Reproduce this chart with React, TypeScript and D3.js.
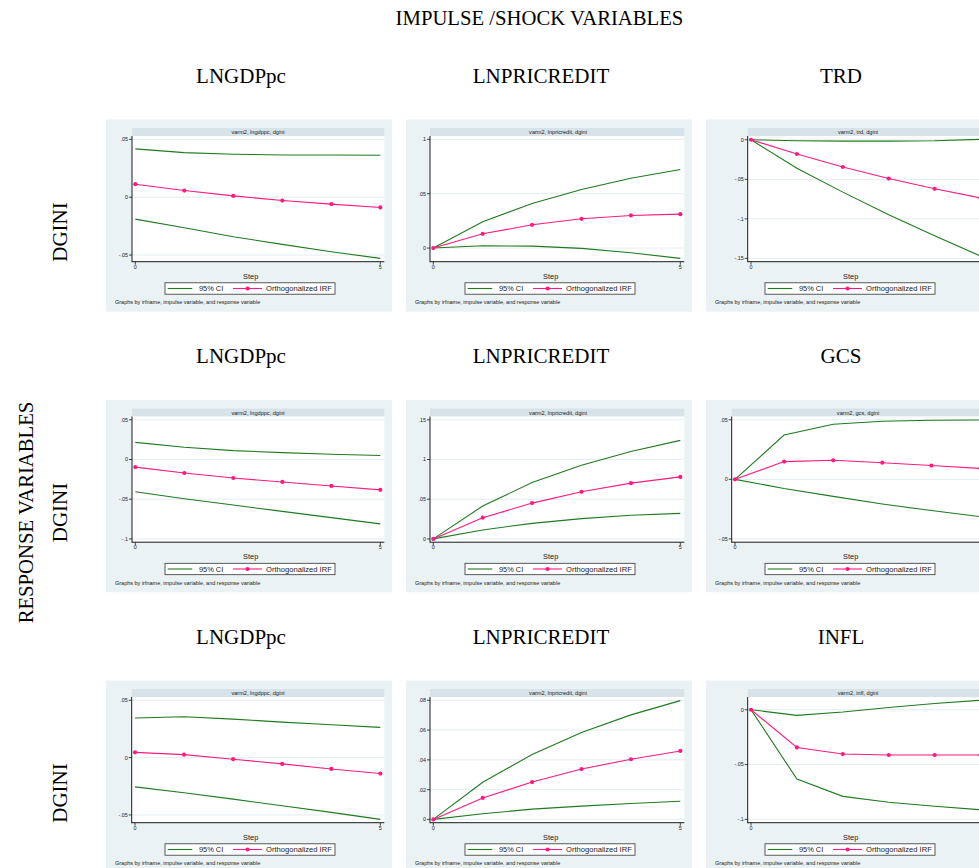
import React from "react";
import * as d3 from "d3";

// Forecast horizon (steps)
const STEPS = [0, 1, 2, 3, 4, 5];

// Column headers (impulse variables), one list per row of panels
const impulseRow1 = ["LNGDPpc", "LNPRICREDIT", "TRD"];
const impulseRow2 = ["LNGDPpc", "LNPRICREDIT", "GCS"];
const impulseRow3 = ["LNGDPpc", "LNPRICREDIT", "INFL"];
const responseName = "DGINI";

// Response of dgini to lngdppc (first system)
const gdp1Irf = [0.0112, 0.0057, 0.0011, -0.0029, -0.006, -0.0089];
const gdp1Lo = [-0.019, -0.0264, -0.0342, -0.0408, -0.0471, -0.0529];
const gdp1Hi = [0.0417, 0.0385, 0.0371, 0.0365, 0.0365, 0.0362];
const gdp1Ticks = [-0.05, 0, 0.05];

// Response of dgini to lnpricredit (first system)
const credit1Irf = [0, 0.0131, 0.0214, 0.0269, 0.03, 0.0312];
const credit1Lo = [0, 0.0021, 0.0018, -0.0003, -0.0043, -0.0095];
const credit1Hi = [0, 0.0242, 0.041, 0.0538, 0.0642, 0.0722];
const credit1Ticks = [0, 0.05, 0.1];

// Response of dgini to trd
const trdIrf = [0, -0.018, -0.0344, -0.049, -0.062, -0.0735];
const trdLo = [0, -0.036, -0.0662, -0.0947, -0.1215, -0.147];
const trdHi = [0, -0.0013, -0.0017, -0.0017, -0.0012, 0.0006];
const trdTicks = [-0.15, -0.1, -0.05, 0];

// Response of dgini to lngdppc (second system)
const gdp2Irf = [-0.0096, -0.017, -0.0233, -0.0283, -0.0333, -0.0382];
const gdp2Lo = [-0.0407, -0.0495, -0.0574, -0.0653, -0.0732, -0.0811];
const gdp2Hi = [0.0216, 0.0154, 0.0112, 0.0087, 0.0066, 0.005];
const gdp2Ticks = [-0.1, -0.05, 0, 0.05];

// Response of dgini to lnpricredit (second system)
const credit2Irf = [0, 0.0267, 0.0451, 0.0593, 0.0702, 0.0781];
const credit2Lo = [0, 0.0113, 0.0196, 0.0255, 0.0297, 0.0322];
const credit2Hi = [0, 0.0414, 0.071, 0.0927, 0.11, 0.1241];
const credit2Ticks = [0, 0.05, 0.1, 0.15];

// Response of dgini to gcs
const gcsIrf = [0, 0.0149, 0.016, 0.014, 0.0116, 0.0091];
const gcsLo = [0, -0.0077, -0.0143, -0.0207, -0.0262, -0.0314];
const gcsHi = [0, 0.0372, 0.0463, 0.0488, 0.0496, 0.0499];
const gcsTicks = [-0.05, 0, 0.05];

// Response of dgini to lngdppc (third system)
const gdp3Irf = [0.0046, 0.0026, -0.0014, -0.0055, -0.0099, -0.0139];
const gdp3Lo = [-0.0255, -0.0307, -0.0362, -0.042, -0.0478, -0.0539];
const gdp3Hi = [0.0345, 0.0357, 0.0336, 0.031, 0.0287, 0.0264];
const gdp3Ticks = [-0.05, 0, 0.05];

// Response of dgini to lnpricredit (third system)
const credit3Irf = [0, 0.0144, 0.0251, 0.0338, 0.0404, 0.046];
const credit3Lo = [0, 0.0038, 0.0069, 0.0089, 0.0107, 0.0122];
const credit3Hi = [0, 0.0249, 0.0436, 0.0584, 0.0702, 0.0798];
const credit3Ticks = [0, 0.02, 0.04, 0.06, 0.08];

// Response of dgini to infl
const inflIrf = [0, -0.0344, -0.0404, -0.0413, -0.0413, -0.0413];
const inflLo = [0, -0.0632, -0.079, -0.0844, -0.088, -0.0912];
const inflHi = [0, -0.0051, -0.0021, 0.0021, 0.0057, 0.0086];
const inflTicks = [-0.1, -0.05, 0];

type PanelData = {
  strip: string;
  irf: number[];
  lo: number[];
  hi: number[];
  ticks: number[];
};

const panelRows: PanelData[][] = [
  [
    { strip: "varm2, lngdppc, dgini", irf: gdp1Irf, lo: gdp1Lo, hi: gdp1Hi, ticks: gdp1Ticks },
    { strip: "varm2, lnpricredit, dgini", irf: credit1Irf, lo: credit1Lo, hi: credit1Hi, ticks: credit1Ticks },
    { strip: "varm2, trd, dgini", irf: trdIrf, lo: trdLo, hi: trdHi, ticks: trdTicks },
  ],
  [
    { strip: "varm2, lngdppc, dgini", irf: gdp2Irf, lo: gdp2Lo, hi: gdp2Hi, ticks: gdp2Ticks },
    { strip: "varm2, lnpricredit, dgini", irf: credit2Irf, lo: credit2Lo, hi: credit2Hi, ticks: credit2Ticks },
    { strip: "varm2, gcs, dgini", irf: gcsIrf, lo: gcsLo, hi: gcsHi, ticks: gcsTicks },
  ],
  [
    { strip: "varm2, lngdppc, dgini", irf: gdp3Irf, lo: gdp3Lo, hi: gdp3Hi, ticks: gdp3Ticks },
    { strip: "varm2, lnpricredit, dgini", irf: credit3Irf, lo: credit3Lo, hi: credit3Hi, ticks: credit3Ticks },
    { strip: "varm2, infl, dgini", irf: inflIrf, lo: inflLo, hi: inflHi, ticks: inflTicks },
  ],
];
const headerRows = [impulseRow1, impulseRow2, impulseRow3];

// Layout
const W = 979;
const H = 868;
const colLeft = [106, 406, 706];
const rowTop = [119.5, 400, 680.5];
const panelW = 286;
const panelH = 192.2;
const plotLefts = [
  [132, 430, 747.7],
  [132, 430, 731.7],
  [131.7, 430, 747.7],
];
const plotRights = [384.3, 684.3, 984.5];
const headerCenters = [241, 541, 841];

const SERIF = "'Liberation Serif', 'Times New Roman', Times, serif";
const SANS = "'Liberation Sans', Arial, Helvetica, sans-serif";
const GREEN = "#1f7a1f";
const PINK = "#ff1a7f";
const PANEL_BG = "#eaf2f3";
const STRIP_BG = "#d7e3e9";
const GRID = "#e4edf0";
const INK = "#1a1a1a";

const fmtTick = (v: number) =>
  v === 0 ? "0" : String(+v.toFixed(3)).replace("0.", ".");

function IrfPanel({
  p,
  x0,
  y0,
  pl,
  pr,
}: {
  p: PanelData;
  x0: number;
  y0: number;
  pl: number;
  pr: number;
}) {
  const plotTop = y0 + 16.5;
  const axisY = y0 + 142.2;
  const m = 3.3;
  const all = [...p.ticks, ...p.irf, ...p.lo, ...p.hi];
  const y = d3
    .scaleLinear()
    .domain([d3.min(all) as number, d3.max(all) as number])
    .range([axisY - m, plotTop + m]);
  const x = d3.scaleLinear().domain([0, 5]).range([pl + 3.3, pr - 4]);
  const line = d3
    .line<number>()
    .x((_, i) => x(STEPS[i]))
    .y((d) => y(d));

  const legX = x0 + 59;
  const legY = y0 + 163.3;
  // step labels that would sit past the drawing's right edge are left out
  const xLabels = [0, 5].filter((s) => x(s) + 2 < W);

  return (
    <g>
      <rect x={x0} y={y0} width={panelW} height={panelH} fill={PANEL_BG} />
      <rect x={pl} y={y0 + 8.5} width={pr - pl} height={8} fill={STRIP_BG} />
      <text
        x={x0 + 152}
        y={y0 + 14.6}
        fontFamily={SANS}
        fontSize={5.6}
        fill={INK}
        textAnchor="middle"
      >
        {p.strip}
      </text>
      <rect x={pl} y={plotTop} width={pr - pl} height={axisY - plotTop} fill="#fff" />
      {p.ticks.map((t) => (
        <line
          key={"g" + t}
          x1={pl}
          x2={pr}
          y1={y(t)}
          y2={y(t)}
          stroke={GRID}
          strokeWidth={1}
        />
      ))}
      <path d={line(p.hi) || ""} fill="none" stroke={GREEN} strokeWidth={1.1} />
      <path d={line(p.lo) || ""} fill="none" stroke={GREEN} strokeWidth={1.1} />
      <path d={line(p.irf) || ""} fill="none" stroke={PINK} strokeWidth={1.1} />
      {p.irf.map((v, i) => (
        <circle key={"m" + i} cx={x(STEPS[i])} cy={y(v)} r={2.1} fill={PINK} />
      ))}
      {/* axes */}
      <line x1={pl} x2={pl} y1={plotTop} y2={axisY + 0.5} stroke={INK} strokeWidth={1} />
      <line x1={pl} x2={pr} y1={axisY} y2={axisY} stroke={INK} strokeWidth={1} />
      {p.ticks.map((t) => (
        <g key={"t" + t}>
          <line x1={pl - 3} x2={pl} y1={y(t)} y2={y(t)} stroke={INK} strokeWidth={0.8} />
          <text
            x={pl - 4}
            y={y(t)}
            dy="0.35em"
            fontFamily={SANS}
            fontSize={5.4}
            fill={INK}
            textAnchor="end"
          >
            {fmtTick(t)}
          </text>
        </g>
      ))}
      {[0, 5].map((s) => (
        <line
          key={"xt" + s}
          x1={x(s)}
          x2={x(s)}
          y1={axisY}
          y2={axisY + 3}
          stroke={INK}
          strokeWidth={0.8}
        />
      ))}
      {xLabels.map((s) => (
        <text
          key={"xl" + s}
          x={x(s)}
          y={axisY + 7}
          fontFamily={SANS}
          fontSize={5.4}
          fill={INK}
          textAnchor="middle"
        >
          {s}
        </text>
      ))}
      <text
        x={x0 + 144.7}
        y={y0 + 159.2}
        fontFamily={SANS}
        fontSize={7.4}
        fill={INK}
        textAnchor="middle"
      >
        Step
      </text>
      {/* legend */}
      <rect
        x={legX}
        y={legY}
        width={170}
        height={11.4}
        fill="#fff"
        stroke="#333"
        strokeWidth={0.8}
      />
      <line
        x1={legX + 2.7}
        x2={legX + 27.3}
        y1={legY + 5.7}
        y2={legY + 5.7}
        stroke={GREEN}
        strokeWidth={1.1}
      />
      <text x={legX + 34} y={legY + 8.4} fontFamily={SANS} fontSize={7.4} fill={INK}>
        95% CI
      </text>
      <line
        x1={legX + 68}
        x2={legX + 97}
        y1={legY + 5.7}
        y2={legY + 5.7}
        stroke={PINK}
        strokeWidth={1.1}
      />
      <circle cx={legX + 82.5} cy={legY + 5.7} r={2.1} fill={PINK} />
      <text x={legX + 101} y={legY + 8.4} fontFamily={SANS} fontSize={7.6} fill={INK}>
        Orthogonalized IRF
      </text>
      <text x={x0 + 9} y={y0 + 184.5} fontFamily={SANS} fontSize={5.5} fill={INK}>
        Graphs by irfname, impulse variable, and response variable
      </text>
    </g>
  );
}

export default function App() {
  return (
    <svg
      width={W}
      height={H}
      style={{ position: "absolute", left: 0, top: 0, background: "#fff" }}
    >
      <text
        x={539.5}
        y={25}
        fontFamily={SERIF}
        fontSize={20.7}
        fill="#000"
        textAnchor="middle"
      >
        IMPULSE /SHOCK VARIABLES
      </text>
      <text
        transform="translate(33,512.5) rotate(-90)"
        fontFamily={SERIF}
        fontSize={20.7}
        fill="#000"
        textAnchor="middle"
      >
        RESPONSE VARIABLES
      </text>
      {headerRows.map((names, r) => (
        <g key={"h" + r}>
          {names.map((n, c) => (
            <text
              key={n + c}
              x={headerCenters[c]}
              y={82.7 + r * 280.5}
              fontFamily={SERIF}
              fontSize={21}
              fill="#000"
              textAnchor="middle"
            >
              {n}
            </text>
          ))}
          <text
            transform={`translate(66.5,${232 + r * 280.5}) rotate(-90)`}
            fontFamily={SERIF}
            fontSize={21}
            fill="#000"
            textAnchor="middle"
          >
            {responseName}
          </text>
        </g>
      ))}
      {panelRows.map((row, r) =>
        row.map((p, c) => (
          <IrfPanel
            key={r + "-" + c}
            p={p}
            x0={colLeft[c]}
            y0={rowTop[r]}
            pl={plotLefts[r][c]}
            pr={plotRights[c]}
          />
        ))
      )}
    </svg>
  );
}
